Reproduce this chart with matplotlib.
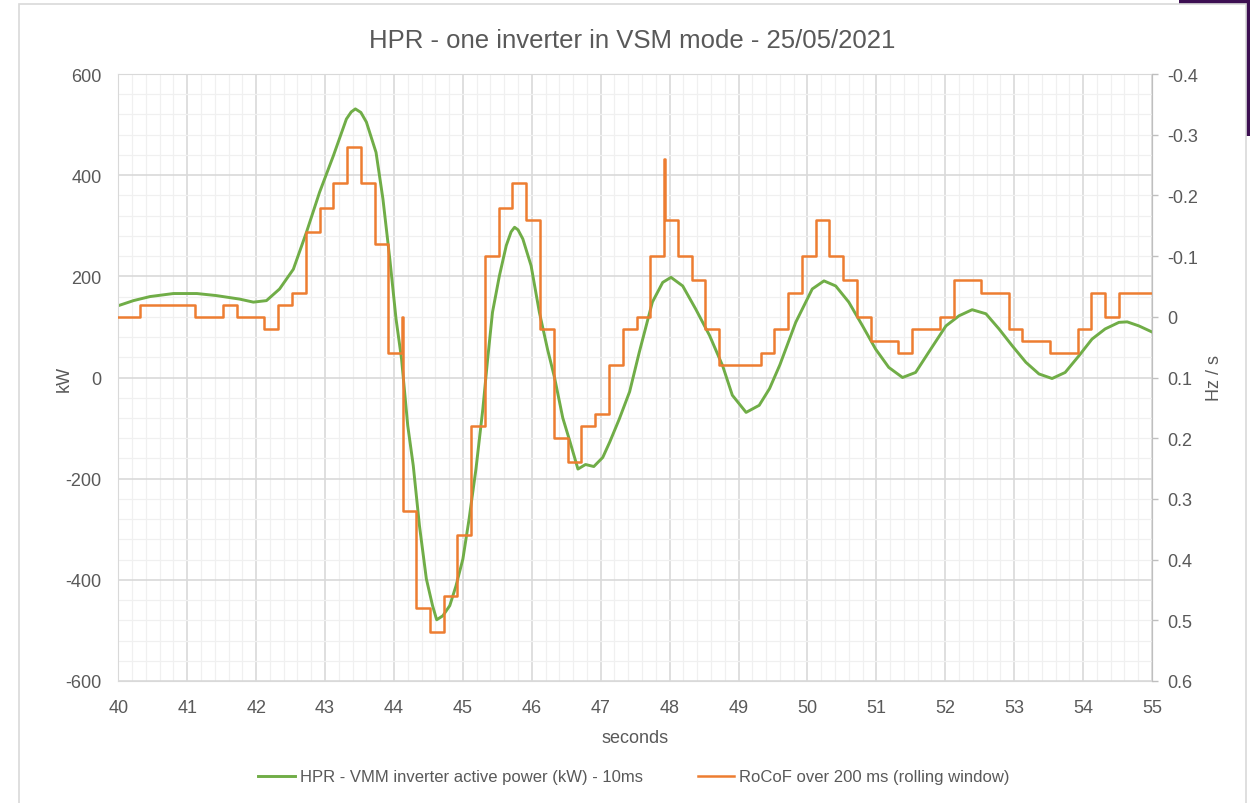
import numpy as np
import matplotlib.pyplot as plt
from matplotlib.patches import Rectangle
from matplotlib.ticker import MultipleLocator, FuncFormatter

# données
title = "HPR - one inverter in VSM mode - 25/05/2021"
power_label = "HPR - VMM inverter active power (kW) - 10ms"
rocof_label = "RoCoF over 200 ms (rolling window)"

# puissance active (kW), pas de 10 ms -> points relevés
power_t = [40.0, 40.22, 40.46, 40.8, 41.14, 41.42, 41.76, 41.96, 42.15, 42.34,
           42.54, 42.73, 42.92, 43.12, 43.31, 43.38, 43.44, 43.52, 43.6, 43.74,
           43.84, 43.94, 44.03, 44.11, 44.2, 44.28, 44.37, 44.47, 44.56, 44.62,
           44.71, 44.81, 44.9, 45.0, 45.09, 45.19, 45.29, 45.36, 45.43, 45.53,
           45.63, 45.7, 45.75, 45.8, 45.87, 45.99, 46.11, 46.23, 46.33, 46.45,
           46.55, 46.67, 46.78, 46.9, 47.03, 47.13, 47.27, 47.42, 47.56, 47.75,
           47.9, 48.02, 48.19, 48.38, 48.58, 48.77, 48.91, 49.11, 49.3, 49.45,
           49.6, 49.83, 50.07, 50.24, 50.41, 50.6, 50.8, 50.99, 51.18, 51.38,
           51.57, 51.76, 52.01, 52.2, 52.39, 52.59, 52.78, 52.97, 53.17, 53.36,
           53.55, 53.74, 53.94, 54.13, 54.32, 54.52, 54.64, 54.81, 55.0]
power_kw = [142, 152, 160, 166, 166, 162, 155, 149, 152, 175,
            214, 287, 366, 438, 511, 525, 531, 524, 505, 445,
            353, 234, 116, 37, -95, -174, -293, -398, -451, -479,
            -471, -451, -412, -359, -280, -181, -62, 37, 129, 201,
            261, 288, 297, 292, 274, 221, 129, 55, 0, -80,
            -125, -181, -172, -176, -158, -128, -82, -28, 50, 149,
            188, 198, 181, 135, 83, 23, -35, -69, -55, -22,
            25, 109, 175, 191, 181, 149, 102, 56, 20, 0,
            10, 50, 102, 122, 134, 126, 96, 63, 30, 7,
            -2, 10, 43, 76, 96, 109, 110, 102, 90]

# RoCoF (Hz/s), fenêtre glissante 200 ms -> marches
rocof_t = [40.0, 40.32, 41.12, 41.52, 41.72, 42.12, 42.32, 42.52, 42.72, 42.92,
           43.12, 43.32, 43.52, 43.72, 43.92, 44.12, 44.13, 44.32, 44.52, 44.72,
           44.92, 45.12, 45.32, 45.52, 45.72, 45.92, 46.12, 46.32, 46.52, 46.72,
           46.92, 47.12, 47.32, 47.52, 47.72, 47.92, 47.93, 48.12, 48.32, 48.52,
           48.72, 49.32, 49.52, 49.72, 49.92, 50.12, 50.32, 50.52, 50.72, 50.92,
           51.32, 51.52, 51.92, 52.12, 52.52, 52.92, 53.12, 53.52, 53.92, 54.12,
           54.32, 54.52, 55.0]
rocof_hz = [0.00, -0.02, 0.00, -0.02, 0.00, 0.02, -0.02, -0.04, -0.14, -0.18,
            -0.22, -0.28, -0.22, -0.12, 0.06, 0.00, 0.32, 0.48, 0.52, 0.46,
            0.36, 0.18, -0.10, -0.18, -0.22, -0.16, 0.02, 0.20, 0.24, 0.18,
            0.16, 0.08, 0.02, 0.00, -0.10, -0.26, -0.16, -0.10, -0.06, 0.02,
            0.08, 0.06, 0.02, -0.04, -0.10, -0.16, -0.10, -0.06, 0.00, 0.04,
            0.06, 0.02, 0.00, -0.06, -0.04, 0.02, 0.04, 0.06, 0.02, -0.04,
            0.00, -0.04, -0.04]

plt.rcParams["font.family"] = ["Liberation Sans Narrow", "Liberation Sans", "DejaVu Sans"]
plt.rcParams["axes.unicode_minus"] = False
txt = "#595959"

W, H = 1250, 804
fig = plt.figure(figsize=(W / 100, H / 100), dpi=100)

# fond violet en haut à droite + cadre du graphique
fig.add_artist(Rectangle((1179 / W, 1 - 137 / H), 1 - 1179 / W, 137 / H,
                         transform=fig.transFigure, facecolor="#3d0f52",
                         edgecolor="none", zorder=-3))
fig.add_artist(Rectangle((19 / W, -0.01), (1246 - 19) / W, 1.01 - 5 / H,
                         transform=fig.transFigure, facecolor="white",
                         edgecolor="#d9d9d9", lw=1.2, zorder=-2))

ax = fig.add_axes([118.3 / W, 1 - 682 / H, (1152 - 118.3) / W, (682 - 75) / H])
ax.set_facecolor("none")
ax2 = ax.twinx()

ln1, = ax.plot(power_t, power_kw, color="#70ad47", lw=2.1)
ln2, = ax2.plot(rocof_t, rocof_hz, color="#ed7d31", lw=1.8, drawstyle="steps-post")

ax.set_xlim(40, 55)
ax.set_ylim(-600, 600)
ax2.set_ylim(0.6, -0.4)

ax.xaxis.set_major_locator(MultipleLocator(1))
ax.xaxis.set_minor_locator(MultipleLocator(0.2))
ax.yaxis.set_major_locator(MultipleLocator(200))
ax.yaxis.set_minor_locator(MultipleLocator(40))
ax2.yaxis.set_major_locator(MultipleLocator(0.1))
ax2.yaxis.set_major_formatter(FuncFormatter(lambda v, p: "0" if abs(v) < 1e-9 else f"{v:.1f}"))

ax.set_axisbelow(True)
ax.grid(which="major", color="#d9d9d9", lw=1.2)
ax.grid(which="minor", color="#f0f0f0", lw=0.9)

ax.tick_params(axis="both", which="both", length=0, labelsize=13, colors=txt)
ax.tick_params(axis="y", pad=12)
ax.tick_params(axis="x", pad=13)
ax2.tick_params(axis="y", length=4, width=1, color="#bfbfbf", pad=7,
                labelsize=13, labelcolor=txt)

for s in ax.spines.values():
    s.set_color("#d9d9d9")
for k in ["left", "top", "bottom"]:
    ax2.spines[k].set_visible(False)
ax2.spines["right"].set_color("#bfbfbf")

ax.set_xlabel("seconds", fontsize=13, color=txt, labelpad=9)
ax.set_ylabel("kW", fontsize=13, color=txt, labelpad=-5)
ax2.set_ylabel("Hz / s", fontsize=13, color=txt, labelpad=6, rotation=90)

fig.text(632 / W, 1 - 41 / H, title, ha="center", va="center",
         fontsize=18.5, color=txt)

fig.legend([ln1, ln2], [power_label, rocof_label], loc="center",
           bbox_to_anchor=(634 / W, 1 - 778 / H), ncol=2, frameon=False,
           fontsize=12, handlelength=2.2, handletextpad=0.3, columnspacing=3.3,
           labelcolor=txt)

fig.savefig("out.png", dpi=100)
